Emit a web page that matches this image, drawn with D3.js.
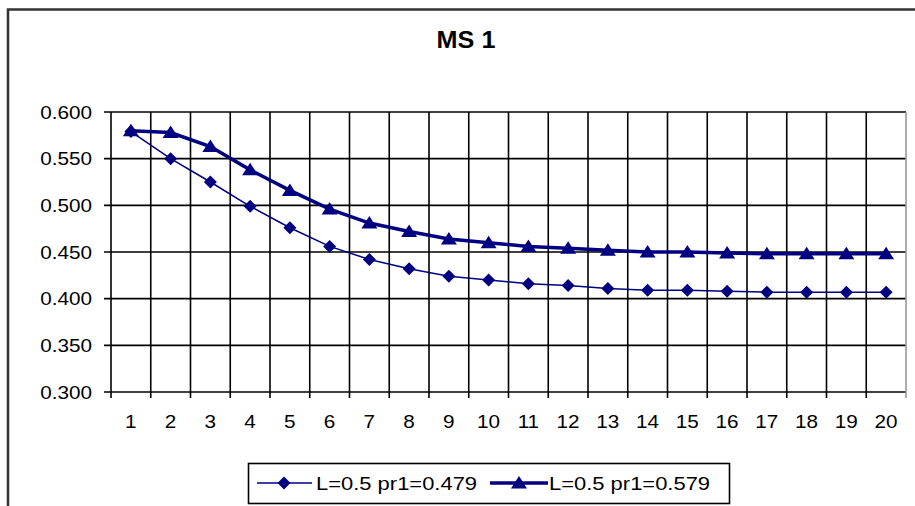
<!DOCTYPE html>
<html>
<head>
<meta charset="utf-8">
<script src="https://cdn.jsdelivr.net/npm/d3@7"></script>
<style>
  html, body { margin: 0; padding: 0; background: #fff; }
  svg { display: block; }
  text { font-family: "Liberation Sans", Arial, sans-serif; fill: #000; }
</style>
</head>
<body>
<svg id="chart" width="915" height="506"></svg>
<script>
// ---- data ----
const categories = ["1","2","3","4","5","6","7","8","9","10","11","12","13","14","15","16","17","18","19","20"];
const seriesNames = ["L=0.5 pr1=0.479", "L=0.5 pr1=0.579"];
const seriesA = [0.579, 0.550, 0.525, 0.499, 0.476, 0.456, 0.442, 0.432, 0.424, 0.420, 0.416, 0.414, 0.411, 0.409, 0.409, 0.408, 0.407, 0.407, 0.407, 0.407];
const seriesB = [0.580, 0.578, 0.563, 0.538, 0.516, 0.496, 0.481, 0.472, 0.464, 0.460, 0.456, 0.454, 0.452, 0.450, 0.450, 0.449, 0.448, 0.448, 0.448, 0.448];
const yTicks = [0.300, 0.350, 0.400, 0.450, 0.500, 0.550, 0.600];
const titleText = "MS 1";

// ---- layout ----
const svg = d3.select("#chart");
const W = 915, H = 506;
const plot = { left: 111, right: 906, top: 112, bottom: 392 };
const color = "#000080";
const SX = 1.15; // horizontal text stretch
const SXL = 1.22; // legend text stretch

// outer frame
svg.append("path")
  .attr("d", `M8,${H + 5} L8,9.5 L${W + 5},9.5`)
  .attr("fill", "none").attr("stroke", "#333").attr("stroke-width", 2.5);

// title
svg.append("text")
  .attr("transform", `translate(466,48) scale(1.05,1)`)
  .attr("text-anchor", "middle")
  .attr("font-size", 24).attr("font-weight", "bold")
  .text(titleText);

const x = d3.scaleBand().domain(categories).range([plot.left, plot.right]);
const y = d3.scaleLinear().domain([0.3, 0.6]).range([plot.bottom, plot.top]);

const g = svg.append("g");

// horizontal gridlines
g.selectAll("line.hg").data(yTicks).join("line")
  .attr("x1", plot.left - 7).attr("x2", plot.right)
  .attr("y1", d => y(d)).attr("y2", d => y(d))
  .attr("stroke", "#000").attr("stroke-width", 1.6);

// vertical gridlines at category boundaries
const bounds = categories.map(c => x(c)).slice(1);
g.selectAll("line.vg").data(bounds).join("line")
  .attr("x1", d => d).attr("x2", d => d)
  .attr("y1", plot.top).attr("y2", plot.bottom + 6)
  .attr("stroke", "#000").attr("stroke-width", 1.6);

// left axis
g.append("line").attr("x1", plot.left).attr("x2", plot.left)
  .attr("y1", plot.top).attr("y2", plot.bottom + 6)
  .attr("stroke", "#000").attr("stroke-width", 1.6);
// right border
g.append("line").attr("x1", plot.right).attr("x2", plot.right)
  .attr("y1", plot.top).attr("y2", plot.bottom + 6)
  .attr("stroke", "#999").attr("stroke-width", 1.6);

// y labels
g.selectAll("text.yl").data(yTicks).join("text")
  .attr("transform", d => `translate(92,${y(d) + 6.5}) scale(${SX},1)`)
  .attr("text-anchor", "end").attr("font-size", 18)
  .text(d => d3.format(".3f")(d));

// x labels
g.selectAll("text.xl").data(categories).join("text")
  .attr("transform", d => `translate(${x(d) + x.bandwidth() / 2},428) scale(${SX},1)`)
  .attr("text-anchor", "middle").attr("font-size", 18)
  .text(d => d);

const cx = d => x(d) + x.bandwidth() / 2;
const line = d3.line().x((d, i) => cx(categories[i])).y(d => y(d));

const diamond = s => `M0,${-s} L${s},0 L0,${s} L${-s},0 Z`;
const tri = `M0,-7 L8,5.5 L-8,5.5 Z`;

// series A (thin, diamonds)
g.append("path").datum(seriesA).attr("d", line)
  .attr("fill", "none").attr("stroke", color).attr("stroke-width", 1.5);
g.selectAll("path.ma").data(seriesA).join("path")
  .attr("transform", (d, i) => `translate(${cx(categories[i])},${y(d)})`)
  .attr("d", diamond(6.5)).attr("fill", color);

// series B (thick, triangles)
g.append("path").datum(seriesB).attr("d", line)
  .attr("fill", "none").attr("stroke", color).attr("stroke-width", 3.5);
g.selectAll("path.mb").data(seriesB).join("path")
  .attr("transform", (d, i) => `translate(${cx(categories[i])},${y(d)})`)
  .attr("d", tri).attr("fill", color);

// legend
const lg = svg.append("g");
lg.append("rect").attr("x", 248.5).attr("y", 463.5).attr("width", 481).attr("height", 40)
  .attr("fill", "#fff").attr("stroke", "#000").attr("stroke-width", 1.6);
const ly = 483;
lg.append("line").attr("x1", 257).attr("x2", 312).attr("y1", ly).attr("y2", ly)
  .attr("stroke", color).attr("stroke-width", 1.5);
lg.append("path").attr("transform", `translate(284,${ly})`).attr("d", diamond(6.5)).attr("fill", color);
lg.append("text").attr("transform", `translate(316,${ly + 6.5}) scale(${SXL},1)`)
  .attr("font-size", 18).text(seriesNames[0]);
lg.append("line").attr("x1", 490).attr("x2", 548).attr("y1", ly).attr("y2", ly)
  .attr("stroke", color).attr("stroke-width", 3.5);
lg.append("path").attr("transform", `translate(519,${ly})`).attr("d", tri).attr("fill", color);
lg.append("text").attr("transform", `translate(549,${ly + 6.5}) scale(${SXL},1)`)
  .attr("font-size", 18).text(seriesNames[1]);
</script>
</body>
</html>
